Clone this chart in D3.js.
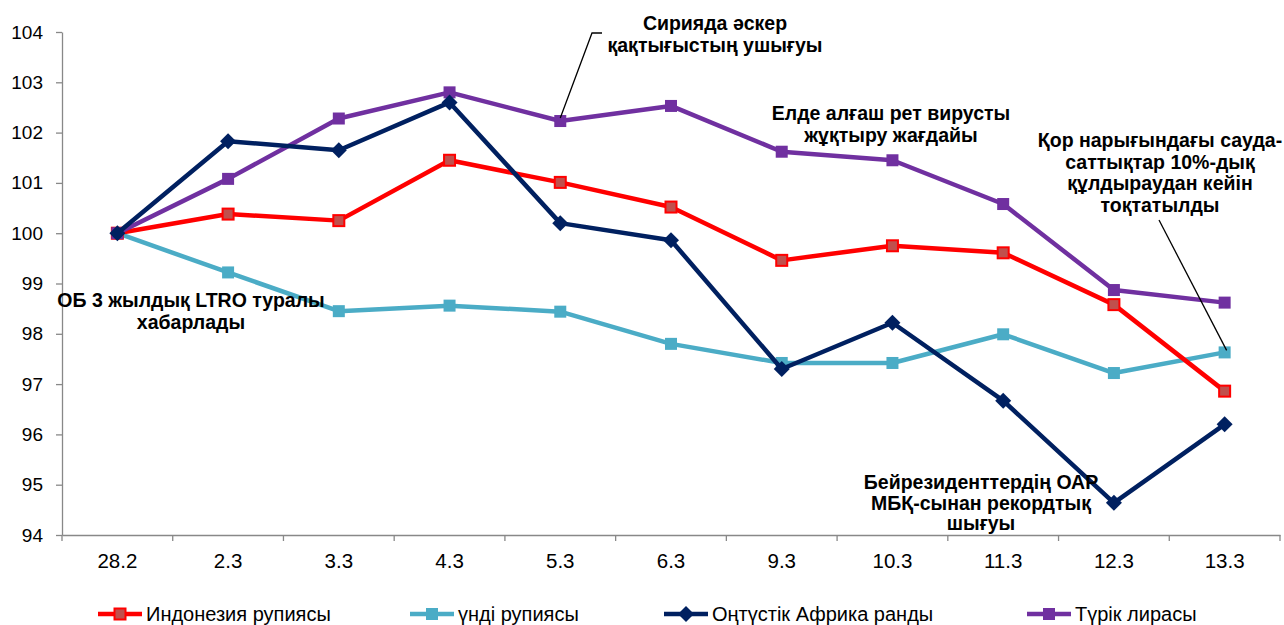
<!DOCTYPE html>
<html>
<head>
<meta charset="utf-8">
<script src="https://cdn.jsdelivr.net/npm/d3@7"></script>
<style>
  body { margin: 0; background: #fff; }
  svg { font-family: "Liberation Sans", Arial, sans-serif; }
  .ann { font-weight: bold; font-size: 19.5px; fill: #000; }
</style>
</head>
<body>
<svg width="1284" height="625"></svg>
<script>
const dates = ['28.2','2.3','3.3','4.3','5.3','6.3','9.3','10.3','11.3','12.3','13.3'];
const indonesia = [100, 100.38, 100.25, 101.45, 101.01, 100.52, 99.46, 99.75, 99.61, 98.58, 96.86];
const india = [100, 99.22, 98.45, 98.56, 98.44, 97.8, 97.42, 97.42, 97.99, 97.22, 97.63];
const southAfrica = [100, 101.83, 101.65, 102.6, 100.2, 99.86, 97.3, 98.22, 96.67, 94.64, 96.2];
const turkey = [100, 101.08, 102.28, 102.8, 102.23, 102.53, 101.62, 101.45, 100.58, 98.87, 98.62];
const yTicks = [94, 95, 96, 97, 98, 99, 100, 101, 102, 103, 104];

const series = [
  {name: 'Индонезия рупиясы', values: indonesia, color: '#ff0000', fill: '#c0504d', shape: 'square'},
  {name: 'үнді рупиясы', values: india, color: '#4bacc6', fill: '#4bacc6', shape: 'square'},
  {name: 'Оңтүстік Африка ранды', values: southAfrica, color: '#002060', fill: '#002060', shape: 'diamond'},
  {name: 'Түрік лирасы', values: turkey, color: '#7030a0', fill: '#7030a0', shape: 'square'}
];

const svg = d3.select('svg');
const plotLeft = 62, plotRight = 1280, plotTop = 32, plotBottom = 535;

const x = d3.scaleBand().domain(dates).range([plotLeft, plotRight]);
const y = d3.scaleLinear().domain([94, 104]).range([plotBottom, plotTop]);
const cx = d => x(d) + x.bandwidth() / 2;

// y axis
const yAxis = svg.append('g')
  .attr('transform', `translate(${plotLeft},0)`)
  .call(d3.axisLeft(y).tickValues(yTicks).tickSize(6).tickSizeOuter(0).tickFormat(d3.format('d')));
yAxis.selectAll('line, path').attr('stroke', '#888').attr('stroke-width', 1.3);
yAxis.selectAll('text').attr('font-size', 19).attr('fill', '#000').attr('x', -19)
  .attr('font-family', '"Liberation Sans", Arial, sans-serif');

// x axis: ticks between categories
const xAxis = svg.append('g')
  .attr('transform', `translate(0,${plotBottom})`)
  .call(d3.axisBottom(x).tickSize(0).tickSizeOuter(0));
xAxis.select('path').attr('stroke', '#888').attr('stroke-width', 1.3);
xAxis.selectAll('text').attr('font-size', 20.5).attr('fill', '#000').attr('dy', 0).attr('y', 33)
  .attr('font-family', '"Liberation Sans", Arial, sans-serif');
svg.append('g').selectAll('line')
  .data(dates.concat(['end']))
  .join('line')
  .attr('x1', (d, i) => plotLeft + i * x.bandwidth())
  .attr('x2', (d, i) => plotLeft + i * x.bandwidth())
  .attr('y1', plotBottom).attr('y2', plotBottom + 6)
  .attr('stroke', '#888').attr('stroke-width', 1.3);

// lines
const line = d3.line().x((d, i) => cx(dates[i])).y(d => y(d));

function drawMarker(g, s, px, py) {
  if (s.shape === 'diamond') {
    g.append('path')
      .attr('d', `M${px},${py - 8}L${px + 8},${py}L${px},${py + 8}L${px - 8},${py}Z`)
      .attr('fill', s.fill);
  } else if (s.fill !== s.color) {
    g.append('rect').attr('x', px - 5.5).attr('y', py - 5.5).attr('width', 11).attr('height', 11)
      .attr('fill', s.fill).attr('stroke', s.color).attr('stroke-width', 2);
  } else {
    g.append('rect').attr('x', px - 6).attr('y', py - 6).attr('width', 12).attr('height', 12)
      .attr('fill', s.fill);
  }
}

const drawOrder = [1, 0, 3, 2];
drawOrder.forEach(k => {
  const s = series[k];
  const g = svg.append('g');
  g.append('path').datum(s.values)
    .attr('d', line)
    .attr('fill', 'none').attr('stroke', s.color).attr('stroke-width', 4.5)
    .attr('stroke-linejoin', 'round');
  s.values.forEach((v, i) => drawMarker(g, s, cx(dates[i]), y(v)));
});

// annotations
function note(lines, xc, y0, dy) {
  const t = svg.append('text').attr('class', 'ann').attr('text-anchor', 'middle');
  lines.forEach((l, i) => t.append('tspan').attr('x', xc).attr('y', y0 + i * dy).text(l));
}
note(['ОБ 3 жылдық LTRO туралы', 'хабарлады'], 191, 307, 22);
note(['Сирияда әскер', 'қақтығыстың ушығуы'], 715, 30, 22);
note(['Елде алғаш рет вирусты', 'жұқтыру жағдайы'], 891, 120, 22);
note(['Қор нарығындағы сауда-', 'саттықтар 10%-дық', 'құлдыраудан кейін', 'тоқтатылды'], 1160, 147, 21.7);
note(['Бейрезиденттердің ОАР', 'МБҚ-сынан рекордтық', 'шығуы'], 981, 489, 20.5);

// leader lines
svg.append('path')
  .attr('d', `M602,33L592,33L${cx('5.3')},${y(turkey[4]) - 3}`)
  .attr('fill', 'none').attr('stroke', '#000').attr('stroke-width', 1.3);
svg.append('path')
  .attr('d', `M1159,220L${cx('13.3') + 2},${y(india[10]) - 2}`)
  .attr('fill', 'none').attr('stroke', '#000').attr('stroke-width', 1.3);

// legend
const legendX = [98, 410, 664, 1027];
const legend = svg.append('g');
series.forEach((s, k) => {
  const lx = legendX[k], ly = 614;
  legend.append('line').attr('x1', lx).attr('x2', lx + 44).attr('y1', ly).attr('y2', ly)
    .attr('stroke', s.color).attr('stroke-width', 4.5);
  drawMarker(legend, s, lx + 22, ly);
  legend.append('text').attr('x', lx + 48).attr('y', ly + 7)
    .attr('font-size', 20).attr('fill', '#000').text(s.name);
});
</script>
</body>
</html>
